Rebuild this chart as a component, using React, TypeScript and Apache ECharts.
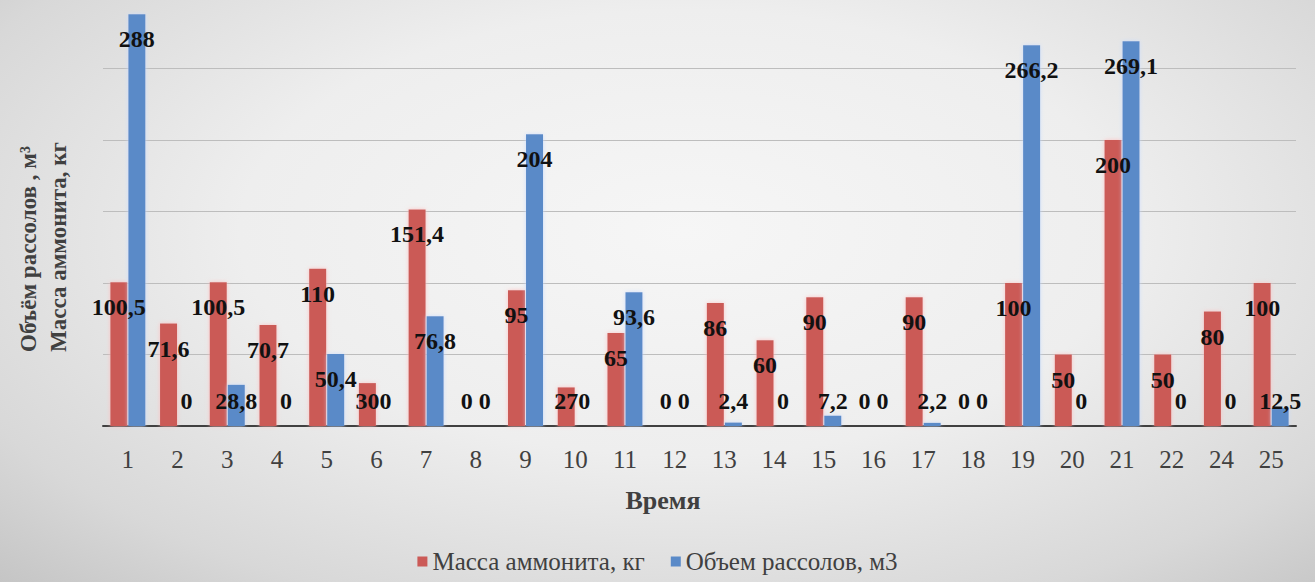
import React, { useEffect, useRef } from "react";
import * as echarts from "echarts";

const categories = ["1","2","3","4","5","6","7","8","9","10","11","12","13","14","15","16","17","18","19","20","21","22","24","25"];
const massAmmonite = [100.5, 71.6, 100.5, 70.7, 110, 30, 151.4, 0, 95, 27, 65, 0, 86, 60, 90, 0, 90, 0, 100, 50, 200, 50, 80, 100];
const brineVolume = [288, 0, 28.8, 0, 50.4, 0, 76.8, 0, 204, 0, 93.6, 0, 2.4, 0, 7.2, 0, 2.2, 0, 266.2, 0, 269.1, 0, 0, 12.5];
const seriesNames = ["Масса аммонита, кг", "Объем рассолов, м3"];
const yTitle = "Объём рассолов , м³\nМасса аммонита, кг";
const xTitle = "Время";

const SERIF = "Liberation Serif";

function fmt(v: number) {
  return String(v).replace(".", ",");
}

function buildData(values: number[]) {
  return values.map((v) => ({
    value: v,
    label:
      v < 34.3
        ? { position: "insideBottom", distance: 13 }
        : { position: "insideTop", distance: 13 },
  }));
}

export default function App() {
  const ref = useRef<HTMLDivElement>(null);
  useEffect(() => {
    if (!ref.current) return;
    const chart = echarts.init(ref.current, undefined, { renderer: "svg" });
    const labelStyle = {
      show: true,
      color: "#111",
      fontFamily: SERIF,
      fontWeight: "bold",
      fontSize: 24,
      lineHeight: 24,
      formatter: (p: any) => fmt(p.value),
    };
    chart.setOption({
      animation: false,
      backgroundColor: "transparent",
      textStyle: { fontFamily: SERIF },
      grid: { left: 103, right: 19, top: 11.3, bottom: 156, containLabel: false },
      legend: {
        bottom: 3,
        left: "center",
        itemWidth: 10,
        itemHeight: 10,
        itemGap: 26,
        icon: "rect",
        textStyle: { fontFamily: SERIF, fontSize: 25, color: "#404040" },
        data: seriesNames,
      },
      xAxis: {
        type: "category",
        data: categories,
        axisLine: { lineStyle: { color: "#404040", width: 2 } },
        axisTick: { show: false },
        axisLabel: { fontFamily: SERIF, fontSize: 25, color: "#404040", margin: 21 },
      },
      yAxis: {
        type: "value",
        min: 0,
        max: 290,
        interval: 50,
        axisLabel: { show: false },
        axisLine: { show: false },
        axisTick: { show: false },
        splitLine: { show: true, showMaxLine: false, lineStyle: { color: "#BDBDBD", width: 1 } },
      },
      graphic: [
        {
          type: "text",
          x: 13,
          y: 352,
          rotation: Math.PI / 2,
          style: {
            text: yTitle,
            fontFamily: SERIF,
            fontWeight: "bold",
            fontSize: 23,
            lineHeight: 30,
            fill: "#404040",
            textAlign: "left",
            textVerticalAlign: "top",
          },
        },
        {
          type: "text",
          x: 663,
          y: 500,
          style: {
            text: xTitle,
            fontFamily: SERIF,
            fontWeight: "bold",
            fontSize: 26,
            fill: "#404040",
            textAlign: "center",
            textVerticalAlign: "middle",
          },
        },
      ],
      series: [
        {
          name: seriesNames[0],
          type: "bar",
          data: buildData(massAmmonite),
          barWidth: 17,
          barGap: "6%",
          itemStyle: { color: "#CB5A57", shadowColor: "rgba(255,190,190,0.9)", shadowBlur: 4 },
          label: labelStyle,
        },
        {
          name: seriesNames[1],
          type: "bar",
          data: buildData(brineVolume),
          barWidth: 17,
          barGap: "6%",
          itemStyle: { color: "#5A8AC8", shadowColor: "rgba(200,220,255,0.9)", shadowBlur: 4 },
          label: labelStyle,
        },
      ],
    });
    return () => chart.dispose();
  }, []);
  return (
    <div
      style={{
        position: "absolute",
        left: 0,
        top: 0,
        width: 1315,
        height: 582,
        background:
          "radial-gradient(ellipse 75% 85% at 52% 40%, #F6F6F6 0%, #EEEEEE 45%, #D8D8D8 80%, #C4C4C4 100%)",
      }}
    >
      <div ref={ref} style={{ width: 1315, height: 582 }} />
    </div>
  );
}
